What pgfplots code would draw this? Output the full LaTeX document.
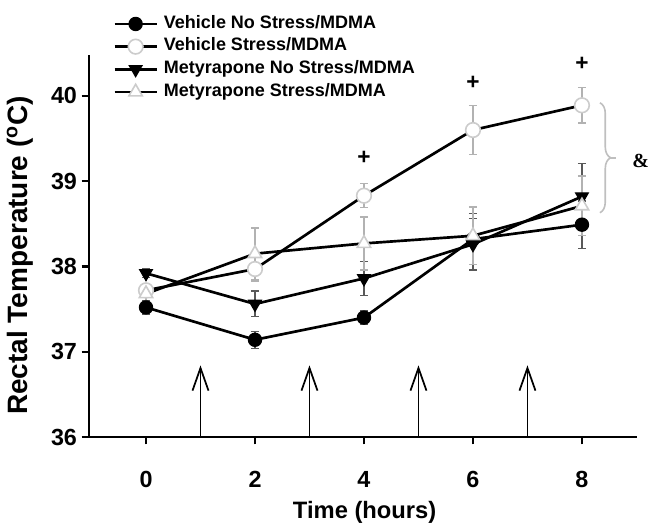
\documentclass[border=0pt]{standalone}
\usepackage{pgfplots}
\pgfplotsset{compat=1.18}
\usepackage{fontspec}
\setmainfont{Liberation Sans}
\newfontfamily\serifamp{Liberation Serif}
\usetikzlibrary{arrows.meta,decorations.pathreplacing}
\begin{document}
\begin{tikzpicture}
\begin{axis}[
  at={(0,0)}, anchor=south west,
  scale only axis,
  width=411pt, height=286.5pt,
  xmin=-1.046, xmax=9.01, ymin=36, ymax=40.48,
  axis x line=bottom, axis y line=left,
  axis line style={-, line width=2pt},
  xtick={0,2,4,6,8}, ytick={36,37,38,39,40},
  tick align=outside, major tick length=5.5pt,
  tick style={line width=1.6pt, black},
  /pgf/number format/assume math mode=true,
  tick label style={font=\fontsize{17.5}{20}\selectfont\bfseries},
  xticklabel style={yshift=-17pt},
  xlabel={Time (hours)}, ylabel={Rectal Temperature (\textsuperscript{o}C)},
  xlabel style={font=\fontsize{17.8}{20}\selectfont\bfseries, at={(axis description cs:0.503,-0.196)}, anchor=center},
  ylabel style={font=\fontsize{21}{23}\selectfont\bfseries, at={(axis description cs:-0.126,0.475)}, anchor=center, rotate=0},
  clip=false,
  legend style={draw=none, fill=none, inner sep=0pt, at={(axis cs:-0.605,40.445)}, anchor=west,
    font=\fontsize{13.5}{16}\selectfont\bfseries, row sep=0pt,
    nodes={inner xsep=4.5pt, inner ysep=1.25pt, text height=10.5pt, text depth=4pt},
    cells={anchor=west}},
  legend image code/.code={\draw[mark repeat=2,mark phase=2] plot coordinates {(0pt,0pt)(15.75pt,0pt)(31.5pt,0pt)};},
  error bars/error bar style={line width=1.1pt},
  error bars/error mark options={rotate=90, mark size=3pt, line width=1.1pt},
]
% Vehicle No Stress/MDMA
\addplot[black, line width=2pt, mark=*, mark size=4.9pt, mark options={fill=black, draw=black, line width=1pt},
  error bars/.cd, y dir=both, y explicit, error bar style={gray!70!black}]
  coordinates {(0,37.52) +- (0,0.08) (2,37.14) +- (0,0.1) (4,37.40) +- (0,0.08) (6,38.32) +- (0,0.3) (8,38.49) +- (0,0.28)};
\addlegendentry{Vehicle No Stress/MDMA}
% Vehicle Stress/MDMA
\addplot[black, line width=2pt, mark=*, mark size=5.5pt, mark options={fill=white, draw=gray!40, line width=1.2pt},
  error bars/.cd, y dir=both, y explicit, error bar style={gray!60}]
  coordinates {(0,37.72) +- (0,0.08) (2,37.97) +- (0,0.14) (4,38.83) +- (0,0.14) (6,39.60) +- (0,0.29) (8,39.89) +- (0,0.21)};
\addlegendentry{Vehicle Stress/MDMA}
% Metyrapone No Stress/MDMA
\addplot[black, line width=2pt, mark=triangle*, mark size=5.4pt, mark options={fill=black, draw=black, rotate=180, line width=1pt},
  error bars/.cd, y dir=both, y explicit, error bar style={gray!70!black}]
  coordinates {(0,37.92) +- (0,0.05) (2,37.56) +- (0,0.15) (4,37.86) +- (0,0.2) (6,38.26) +- (0,0.3) (8,38.82) +- (0,0.39)};
\addlegendentry{Metyrapone No Stress/MDMA}
% Metyrapone Stress/MDMA
\addplot[black, line width=2pt, mark=triangle*, mark size=5.8pt, mark options={fill=white, draw=gray!40, line width=1.2pt},
  error bars/.cd, y dir=both, y explicit, error bar style={gray!60}]
  coordinates {(0,37.68) +- (0,0.1) (2,38.15) +- (0,0.3) (4,38.27) +- (0,0.31) (6,38.36) +- (0,0.34) (8,38.71) +- (0,0.35)};
\addlegendentry{Metyrapone Stress/MDMA}
% dosing arrows
\pgfplotsinvokeforeach{1,3,5,7}{
  \draw[line width=1.4pt, -{Straight Barb[length=17pt, width=12pt, line width=1.3pt]}] (axis cs:#1,36) -- (axis cs:#1,36.84);
}
% significance marks
\node[font=\fontsize{17}{17}\selectfont\bfseries] at (axis cs:4,39.27) {+};
\node[font=\fontsize{17}{17}\selectfont\bfseries] at (axis cs:6,40.15) {+};
\node[font=\fontsize{17}{17}\selectfont\bfseries] at (axis cs:8,40.38) {+};
\draw[gray!50, line width=1.2pt, decorate, decoration={brace, amplitude=8pt}] (axis cs:8.33,39.92) -- (axis cs:8.33,38.63);
\draw[gray!50, line width=1.2pt] (axis cs:8.5,39.275) -- (axis cs:8.62,39.275);
\node[font=\fontsize{15}{15}\selectfont\bfseries\serifamp] at (axis cs:9.08,39.24) {\&};
\end{axis}
\pgfresetboundingbox
\path (-66.75pt,-70.5pt) rectangle (423.75pt,327.75pt);
\end{tikzpicture}
\end{document}
